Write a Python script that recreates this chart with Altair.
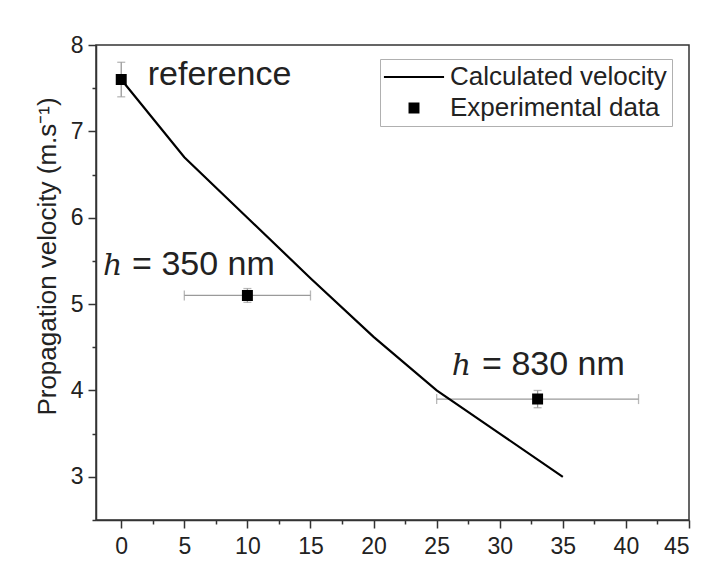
import altair as alt
import pandas as pd

# ---- data ----
calc_x = [0, 5, 10, 15, 20, 25, 30, 35]
calc_v = [7.6, 6.7, 6.0, 5.3, 4.62, 4.0, 3.5, 3.0]

exp_x = [0, 10, 33]
exp_v = [7.6, 5.1, 3.9]
exp_xerr = [0, 5, 8]
exp_verr = [0.2, 0.08, 0.1]

series_names = ["Calculated velocity", "Experimental data"]

x_major = [0, 5, 10, 15, 20, 25, 30, 35, 40, 45]
x_minor = [2.5, 7.5, 12.5, 17.5, 22.5, 27.5, 32.5, 37.5, 42.5]
y_major = [3, 4, 5, 6, 7, 8]
y_minor = [2.5, 3.5, 4.5, 5.5, 6.5, 7.5]

ann_text = ["reference", "= 350 nm", "= 830 nm"]
ann_x = [2.1, 0.86, 28.6]
ann_y = [7.537, 5.34, 4.18]
h_text = ["h", "h"]
h_x = [-1.44, 26.2]
h_y = [5.34, 4.18]

# ---- tables ----
calc_df = pd.DataFrame({"x": calc_x, "v": calc_v})
exp_df = pd.DataFrame({"x": exp_x, "v": exp_v, "xerr": exp_xerr, "verr": exp_verr})
exp_df["series"] = series_names[1]
exp_df["xlo"] = exp_df["x"] - exp_df["xerr"]
exp_df["xhi"] = exp_df["x"] + exp_df["xerr"]
exp_df["vlo"] = exp_df["v"] - exp_df["verr"]
exp_df["vhi"] = exp_df["v"] + exp_df["verr"]
xerr_df = exp_df[exp_df["xerr"] > 0]
ann_df = pd.DataFrame({"t": ann_text, "x": ann_x, "v": ann_y})
h_df = pd.DataFrame({"t": h_text, "x": h_x, "v": h_y})

FONT = "Liberation Sans"
AX = "#333333"
TXT = "#222222"
ERR = "#9a9a9a"

xscale = alt.Scale(domain=[-2, 45], nice=False, zero=False)
yscale = alt.Scale(domain=[2.5, 8], nice=False, zero=False)

xaxis = alt.Axis(
    values=sorted(x_major + x_minor),
    labelExpr="datum.value % 5 === 0 ? format(datum.value, 'd') : ''",
    tickSize={"condition": {"test": "datum.value % 5 === 0", "value": 8}, "value": 4},
    tickColor=AX, tickWidth=1.5, domainColor=AX, domainWidth=1.5,
    labelFont=FONT, labelFontSize=23, labelColor=TXT, labelPadding=7,
    labelFlush=True, labelOverlap=False, grid=False, title=None,
)
yaxis = alt.Axis(
    values=sorted(y_major + y_minor),
    labelExpr="datum.value % 1 === 0 ? format(datum.value, 'd') : ''",
    tickSize={"condition": {"test": "datum.value % 1 === 0", "value": 8}, "value": 4},
    tickColor=AX, tickWidth=1.5, domainColor=AX, domainWidth=1.5,
    labelFont=FONT, labelFontSize=23, labelColor=TXT, labelPadding=5,
    labelFlush=False, labelOverlap=False, grid=False,
    title="Propagation velocity (m.s⁻¹)",
    titleFont=FONT, titleFontSize=26, titleFontWeight="normal", titleColor=TXT,
    titleX=-49, titleY=211, titleAngle=270, titleAlign="center", titleBaseline="middle",
)


def X(f):
    return alt.X(f, type="quantitative", scale=xscale, axis=xaxis)


def Y(f):
    return alt.Y(f, type="quantitative", scale=yscale, axis=yaxis)


line_path = "M-5.1,0H5.1"
square_path = "M-0.76,-0.76H0.76V0.76H-0.76Z"

# horizontal error bars
xbar = alt.Chart(xerr_df).mark_rule(color=ERR, strokeWidth=1.3).encode(
    x=X("xlo"), x2="xhi", y=Y("v"))
xcap_lo = alt.Chart(xerr_df).mark_tick(orient="vertical", size=10, thickness=1.3, color=ERR).encode(
    x=X("xlo"), y=Y("v"))
xcap_hi = alt.Chart(xerr_df).mark_tick(orient="vertical", size=10, thickness=1.3, color=ERR).encode(
    x=X("xhi"), y=Y("v"))
# vertical error bars
ybar = alt.Chart(exp_df).mark_rule(color=ERR, strokeWidth=1.3).encode(
    x=X("x"), y=Y("vlo"), y2="vhi")
ycap_lo = alt.Chart(exp_df).mark_tick(orient="horizontal", size=8, thickness=1.3, color=ERR).encode(
    x=X("x"), y=Y("vlo"))
ycap_hi = alt.Chart(exp_df).mark_tick(orient="horizontal", size=8, thickness=1.3, color=ERR).encode(
    x=X("x"), y=Y("vhi"))

line = alt.Chart(calc_df).mark_line(color="black", strokeWidth=2.2).encode(
    x=X("x"), y=Y("v"))

points = alt.Chart(exp_df).mark_point(
    filled=True, fill="black", stroke="black", strokeWidth=2, size=139, opacity=1
).encode(
    x=X("x"), y=Y("v"),
    shape=alt.Shape(
        "series:N",
        scale=alt.Scale(domain=series_names, range=[line_path, square_path]),
        legend=alt.Legend(
            title=None, orient="none", legendX=284, legendY=14,
            symbolSize=139, symbolStrokeWidth=2, symbolOffset=16,
            labelFont=FONT, labelFontSize=26, labelColor=TXT, labelOffset=23,
            labelLimit=400, rowPadding=5, padding=5,
            strokeColor="#b0b0b0", fillColor="white",
        ),
    ),
)

ann = alt.Chart(ann_df).mark_text(
    align="left", baseline="alphabetic", font=FONT, fontSize=34, color=TXT
).encode(x=X("x"), y=Y("v"), text="t:N")

hh = alt.Chart(h_df).mark_text(
    align="left", baseline="alphabetic", font="DejaVu Serif", fontStyle="italic",
    fontSize=30, color=TXT
).encode(x=X("x"), y=Y("v"), text="t:N")

chart = alt.layer(
    xbar, xcap_lo, xcap_hi, ybar, ycap_lo, ycap_hi, line, points, ann, hh
).properties(
    width=593, height=475,
    autosize="none",
    padding={"left": 88, "top": 37, "right": 4, "bottom": 39},
).configure_view(stroke=AX, strokeWidth=1.5)

chart.save("out.html", embed_options={"renderer": "svg", "actions": False})
